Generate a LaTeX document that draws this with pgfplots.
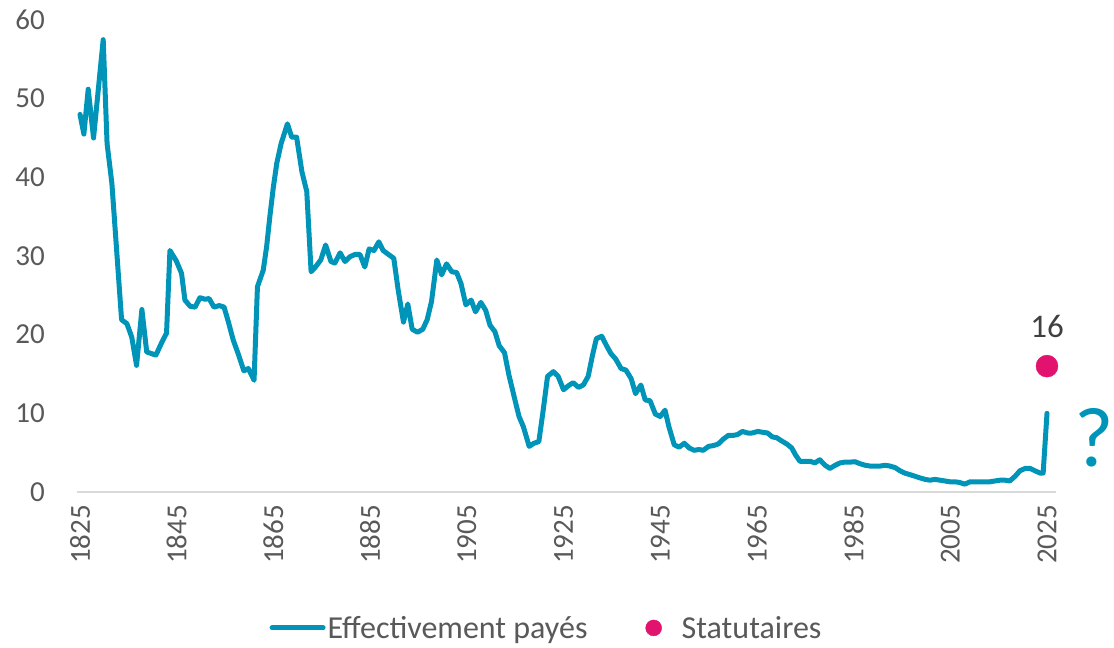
\documentclass[border=0pt]{standalone}
\usepackage{pgfplots}
\pgfplotsset{compat=1.18}
\usepackage{fontspec}
\setmainfont{Carlito}
\definecolor{teal1}{RGB}{0,148,185}
\definecolor{mag}{RGB}{226,19,110}
\definecolor{txt}{RGB}{89,89,89}
\definecolor{axg}{RGB}{217,217,217}
\begin{document}
\begin{tikzpicture}
\path[use as bounding box] (-77pt,-156pt) rectangle (1037pt,492pt);
\begin{axis}[
  at={(0pt,0pt)}, anchor=south west,
  scale only axis, width=979pt, height=472pt,
  xmin=1824.38, xmax=2026.86, ymin=0, ymax=60,
  clip=false,
  axis x line=bottom, axis y line=left,
  axis line style={-},
  x axis line style={draw=axg, line width=2pt},
  y axis line style={draw=none},
  xtick={1825,1845,...,2025}, ytick={0,10,...,60},
  major tick length=0pt,
  /pgf/number format/.cd, 1000 sep={}, assume math mode=true, /pgfplots/.cd,
  tick label style={font=\fontsize{29pt}{34pt}\selectfont, text=txt},
  xticklabel style={rotate=90, anchor=east, inner sep=0pt},
  xticklabel shift=13pt,
  yticklabel style={anchor=east, inner sep=0pt, xshift=-32pt},
  legend style={at={(0.4796,-0.288)}, anchor=center, draw=none, fill=none,
    legend columns=2, font=\fontsize{32pt}{36pt}\selectfont, text=txt,
    /tikz/every even column/.append style={column sep=56pt},
    cells={anchor=west}},
]
\addplot[teal1, line width=5pt, line join=round, line cap=round, mark=none,
  legend image code/.code={\draw[line width=5pt] (0pt,0pt) -- (51pt,0pt);}]
coordinates {
(1825.0,48.0) (1825.8,45.5) (1826.7,51.2) (1827.8,45.0) (1829.8,57.5)
(1830.6,44.3) (1831.6,39.2) (1833.6,21.9) (1834.7,21.4) (1835.7,19.7)
(1836.7,16.1) (1837.8,23.2) (1838.8,17.8) (1840.7,17.4) (1841.9,19.0)
(1842.9,20.2) (1843.6,30.7) (1844.9,29.4) (1846.0,27.8) (1846.7,24.4)
(1847.8,23.6) (1848.8,23.5) (1849.8,24.7) (1850.9,24.5) (1851.7,24.6)
(1852.7,23.5) (1853.8,23.7) (1854.8,23.5) (1855.7,21.6) (1856.7,19.3)
(1857.7,17.6) (1858.9,15.4) (1859.8,15.7) (1861.0,14.2) (1861.7,26.1)
(1862.9,28.2) (1863.6,31.2) (1864.3,35.2) (1865.0,38.8) (1865.7,41.8)
(1866.6,44.3) (1867.9,46.8) (1868.8,45.1) (1869.8,45.1) (1870.9,40.7)
(1871.9,38.2) (1872.8,28.0) (1873.7,28.6) (1874.8,29.5) (1875.8,31.4)
(1876.9,29.3) (1877.7,29.1) (1878.8,30.4) (1879.8,29.3) (1880.8,29.9)
(1881.9,30.2) (1882.9,30.2) (1883.9,28.6) (1884.8,30.9) (1885.8,30.7)
(1886.8,31.8) (1887.7,30.7) (1888.8,30.2) (1889.9,29.7) (1890.8,25.7)
(1891.9,21.6) (1892.8,23.9) (1893.7,20.7) (1894.8,20.3) (1895.9,20.7)
(1896.8,21.9) (1897.7,24.2) (1898.8,29.5) (1899.8,27.6) (1900.8,29.0)
(1901.9,28.0) (1902.9,27.9) (1903.8,26.5) (1904.8,23.8) (1905.9,24.4)
(1906.8,22.9) (1907.9,24.1) (1908.9,23.1) (1909.8,21.2) (1910.8,20.4)
(1911.7,18.6) (1912.8,17.7) (1913.7,14.9) (1914.8,12.1) (1915.8,9.6)
(1916.7,8.3) (1917.9,5.8) (1918.9,6.2) (1919.9,6.4) (1920.8,10.4)
(1921.7,14.7) (1922.9,15.3) (1923.9,14.7) (1925.0,13.0) (1926.0,13.5)
(1927.0,13.9) (1928.1,13.3) (1929.1,13.6) (1930.1,14.7) (1931.0,17.4)
(1931.8,19.5) (1932.9,19.8) (1933.9,18.6) (1934.8,17.6) (1935.8,16.9)
(1936.9,15.7) (1937.9,15.5) (1939.0,14.4) (1939.9,12.5) (1941.0,13.6)
(1941.9,11.7) (1942.9,11.6) (1944.0,9.9) (1945.0,9.6) (1946.0,10.4)
(1946.8,8.3) (1947.9,6.0) (1948.9,5.7) (1950.0,6.2) (1951.0,5.6)
(1952.0,5.3) (1953.0,5.4) (1953.9,5.3) (1955.0,5.8) (1956.0,5.9)
(1957.0,6.1) (1958.0,6.7) (1959.1,7.2) (1960.1,7.2) (1961.0,7.3)
(1962.0,7.7) (1963.1,7.5) (1964.0,7.5) (1965.2,7.7) (1966.1,7.6)
(1967.2,7.5) (1968.2,7.0) (1969.1,6.9) (1970.1,6.5) (1971.2,6.1)
(1972.2,5.6) (1973.0,4.7) (1973.9,3.9) (1974.9,3.9) (1976.0,3.9)
(1977.0,3.7) (1978.0,4.1) (1979.1,3.4) (1980.1,3.0) (1981.2,3.4)
(1982.2,3.7) (1983.2,3.8) (1984.3,3.8) (1985.3,3.85) (1986.3,3.6)
(1987.4,3.4) (1988.4,3.3) (1989.4,3.3) (1990.5,3.3) (1991.5,3.4)
(1992.5,3.3) (1993.6,3.1) (1994.6,2.7) (1995.6,2.4) (1996.7,2.2)
(1997.7,2.0) (1998.7,1.8) (1999.8,1.6) (2000.8,1.5) (2001.8,1.6)
(2002.9,1.5) (2003.9,1.4) (2004.9,1.3) (2006.0,1.3) (2007.0,1.2)
(2008.0,1.0) (2009.1,1.3) (2010.1,1.3) (2011.1,1.3) (2012.2,1.3)
(2013.2,1.3) (2014.2,1.4) (2015.3,1.5) (2016.3,1.5) (2017.3,1.4)
(2018.4,2.0) (2019.4,2.7) (2020.5,3.0) (2021.5,3.0) (2022.5,2.7)
(2023.6,2.4) (2024.2,2.4) (2025.0,10.0)
};
\addlegendentry{Effectivement payés}
\addplot[only marks, mark=*, mark size=11pt, color=mag,
  legend image code/.code={\fill[mag] (0pt,0pt) circle (8pt); \path[draw=none,fill=none] (-8pt,0pt) rectangle (26pt,0.1pt);},
  nodes near coords={16},
  every node near coord/.append style={anchor=center, yshift=40pt,
    font=\fontsize{33pt}{38pt}\selectfont, text={black!75}}]
coordinates {(2025,16)};
\addlegendentry{Statutaires}
\node[text=teal1, font=\fontsize{85pt}{90pt}\selectfont, inner sep=0pt] at (axis cs:2034.8,6.9) {?};
\end{axis}
\end{tikzpicture}
\end{document}
